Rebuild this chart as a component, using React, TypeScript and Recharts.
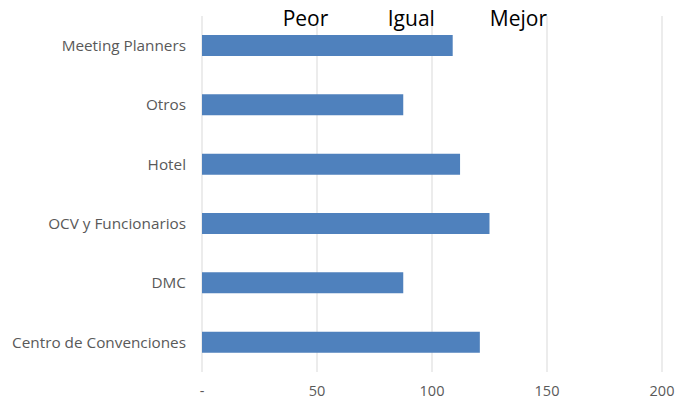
import React from "react";
import { BarChart, Bar, XAxis, YAxis, CartesianGrid } from "recharts";

const categories = [
  "Meeting Planners",
  "Otros",
  "Hotel",
  "OCV y Funcionarios",
  "DMC",
  "Centro de Convenciones",
];
const values = [109, 87.5, 112.2, 125, 87.5, 120.8];
const xTicks = [0, 50, 100, 150, 200];
const headerLabels = ["Peor", "Igual", "Mejor"];
const headerPositions = [45, 91, 137.6];

const data = categories.map((name, i) => ({ name, value: values[i] }));

const PLOT_LEFT = 202;
const PLOT_RIGHT = 662;
const FONT = "'Open Sans', sans-serif";

export default function App() {
  const scale = (v: number) => PLOT_LEFT + ((PLOT_RIGHT - PLOT_LEFT) * v) / 200;
  return (
    <div style={{ position: "absolute", left: 0, top: 0, width: 675, height: 402, background: "#fff" }}>
      <BarChart
        width={675}
        height={402}
        data={data}
        layout="vertical"
        margin={{ top: 16, right: 13, bottom: 0, left: 0 }}
        barCategoryGap={0}
      >
        <CartesianGrid horizontal={false} stroke="#d9d9d9" />
        <XAxis
          type="number"
          domain={[0, 200]}
          ticks={xTicks}
          tickFormatter={(v: number) => (v === 0 ? "-" : String(v))}
          axisLine={false}
          tickLine={false}
          tickSize={0}
          tickMargin={14}
          height={30}
          tick={{ fill: "#595959", fontSize: 14.5, fontFamily: FONT }}
        />
        <YAxis
          type="category"
          dataKey="name"
          width={202}
          axisLine={false}
          tickLine={false}
          tickSize={0}
          tickMargin={16}
          tick={{ fill: "#595959", fontSize: 15.3, fontFamily: FONT }}
        />
        <Bar dataKey="value" fill="#4f81bd" barSize={21} isAnimationActive={false} />
      </BarChart>
      {headerLabels.map((t, i) => (
        <div
          key={t}
          style={{
            position: "absolute",
            top: 4,
            left: scale(headerPositions[i]) - 40,
            width: 80,
            textAlign: "center",
            fontFamily: FONT,
            fontSize: 21,
            color: "#000",
            lineHeight: "28px",
          }}
        >
          {t}
        </div>
      ))}
    </div>
  );
}
